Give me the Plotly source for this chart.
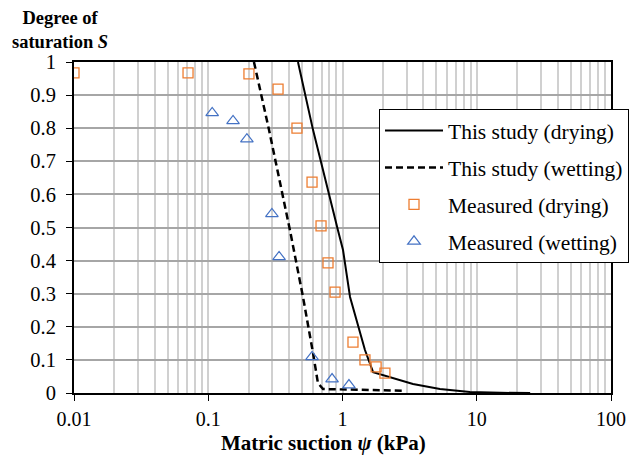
import plotly.graph_objects as go

# ---- data ----
model_dry_psi = [0.466, 0.603, 0.925, 1.009, 1.138, 1.47, 1.69, 2.26, 3.35, 5.32, 8.9, 15, 25]
model_dry_S = [1.0, 0.795, 0.492, 0.432, 0.29, 0.13, 0.063, 0.048, 0.027, 0.012, 0.003, 0.0005, 0.0]

model_wet_psi = [0.219, 0.2835, 0.406, 0.508, 0.603, 0.656, 0.716, 1.3, 2.82]
model_wet_S = [1.0, 0.795, 0.492, 0.29, 0.121, 0.03, 0.012, 0.009, 0.007]

meas_dry_psi = [0.01, 0.0707, 0.201, 0.331, 0.458, 0.593, 0.692, 0.78, 0.88, 1.197, 1.47, 1.78, 2.07]
meas_dry_S = [0.967, 0.967, 0.964, 0.918, 0.80, 0.637, 0.505, 0.393, 0.305, 0.154, 0.10, 0.079, 0.06]

meas_wet_psi = [0.107, 0.153, 0.194, 0.298, 0.337, 0.593, 0.836, 1.117]
meas_wet_S = [0.846, 0.822, 0.767, 0.541, 0.411, 0.109, 0.042, 0.024]

x_tick_vals = [0.01, 0.1, 1, 10, 100]
x_tick_text = ["0.01", "0.1", "1", "10", "100"]
y_tick_vals = [0, 0.1, 0.2, 0.3, 0.4, 0.5, 0.6, 0.7, 0.8, 0.9, 1.0]
y_tick_text = ["0", "0.1", "0.2", "0.3", "0.4", "0.5", "0.6", "0.7", "0.8", "0.9", "1"]

minor_vals = [m * d for d in [0.01, 0.1, 1, 10] for m in range(2, 10)]

FONT = "Liberation Serif"
ORANGE = "#ED7D31"
BLUE = "#4472C4"

fig = go.Figure()
fig.add_trace(go.Scatter(x=model_dry_psi, y=model_dry_S, mode="lines",
                         name="This study (drying)", legendgroup="a",
                         line=dict(color="black", width=2)))
fig.add_trace(go.Scatter(x=model_wet_psi, y=model_wet_S, mode="lines",
                         name="This study (wetting)", legendgroup="b",
                         line=dict(color="black", width=2.5, dash="7px,4px")))
fig.add_trace(go.Scatter(x=meas_dry_psi, y=meas_dry_S, mode="markers",
                         name="Measured (drying)", legendgroup="c",
                         marker=dict(symbol="square-open", size=10, color=ORANGE,
                                     line=dict(width=1.3, color=ORANGE))))
fig.add_trace(go.Scatter(x=meas_wet_psi, y=meas_wet_S, mode="markers",
                         name="Measured (wetting)", legendgroup="d",
                         marker=dict(symbol="triangle-up-open", size=11, color=BLUE,
                                     line=dict(width=1.2, color=BLUE))))

L, R, T, B = 74, 18, 62, 64
W, H = 629, 457
pw, ph = W - L - R, H - T - B

fig.update_layout(
    width=W, height=H,
    margin=dict(l=L, r=R, t=T, b=B, autoexpand=False),
    paper_bgcolor="white", plot_bgcolor="white",
    font=dict(family=FONT, size=20, color="black"),
    showlegend=True,
    legend=dict(x=(379 - L) / pw, y=(H - B - 109) / ph, xanchor="left", yanchor="top",
                bgcolor="white", bordercolor="black", borderwidth=1,
                font=dict(family=FONT, size=21.5, color="black"),
                tracegroupgap=6, itemwidth=58),
)
fig.update_xaxes(type="log", range=[-2, 2], tickvals=x_tick_vals, ticktext=x_tick_text,
                 showgrid=True, gridcolor="#D0D0D0", gridwidth=1.5,
                 minor=dict(tickvals=minor_vals, showgrid=True, gridcolor="#D0D0D0", gridwidth=1.5, ticks=""),
                 ticks="outside", ticklen=6, tickcolor="black", tickwidth=1,
                 showline=True, linecolor="black", linewidth=2, mirror=True,
                 ticklabelstandoff=1,
                 zeroline=False, tickfont=dict(family=FONT, size=20))
fig.update_yaxes(range=[0, 1], tickvals=y_tick_vals, ticktext=y_tick_text,
                 showgrid=True, gridcolor="#A6A6A6", gridwidth=1.5,
                 ticks="outside", ticklen=6, tickcolor="black", tickwidth=1,
                 showline=True, linecolor="black", linewidth=2, mirror=True,
                 ticklabelstandoff=6,
                 zeroline=False, tickfont=dict(family=FONT, size=20.5))

fig.add_annotation(text="<b>Matric suction <i>ψ</i> (kPa)</b>", xref="paper", yref="paper",
                   x=(323 - L) / pw, y=(H - B - 443) / ph, xanchor="center", yanchor="middle",
                   showarrow=False, font=dict(family=FONT, size=21, color="black"))
fig.add_annotation(text="<b>Degree of<br>saturation <i>S</i></b>", xref="paper", yref="paper",
                   x=(60 - L) / pw, y=(H - B - 30) / ph, xanchor="center", yanchor="middle",
                   showarrow=False, align="center",
                   font=dict(family=FONT, size=18.5, color="black"))

fig.write_html("out.html", config={"displayModeBar": False},
               post_script="document.body.style.margin='0';")
